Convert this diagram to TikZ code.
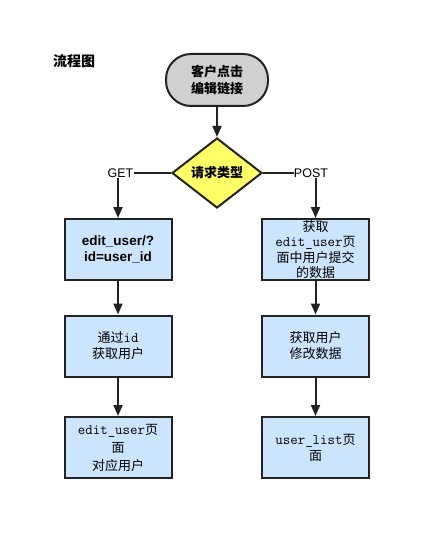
\documentclass[tikz,border=0pt]{standalone}
\usepackage{fontspec}
\setmainfont{Liberation Sans}
\newfontfamily\cjk{Noto Sans CJK SC}
\usetikzlibrary{shapes.geometric,arrows.meta}
\definecolor{boxblue}{HTML}{CCE5FF}
\definecolor{boxline}{HTML}{222222}
\definecolor{startgray}{HTML}{D0D0D0}
\definecolor{diayellow}{HTML}{FFFF66}
\newcommand{\monotxt}[1]{{\ttfamily\fontsize{14.5}{16}\selectfont #1}}
\begin{document}
\begin{tikzpicture}[x=1pt,y=-1pt]
            \tikzstyle{every node}+=[inner sep=0pt, align=center, font=\cjk\fontsize{13}{16}\selectfont]
            \tikzstyle{stepbox}=[draw=boxline, fill=boxblue, line width=2pt, minimum width=107pt, minimum height=61pt]
            \tikzstyle{startnode}=[draw=boxline, fill=startgray, line width=2pt, minimum width=102pt, minimum height=52pt, rounded corners=25pt]
            \tikzstyle{decision}=[draw=boxline, fill=diayellow, line width=2pt, diamond, minimum width=90pt, minimum height=70pt]
            \tikzstyle{flow}=[draw=boxline, line width=2pt, -{Triangle[length=11pt,width=9pt]}]
            \useasboundingbox (0,0) rectangle (431,540);
            \node [font=\cjk\fontsize{14}{16}\selectfont\bfseries] (title) at (74,61) {流程图};
            \node [startnode, font=\cjk\fontsize{13}{17}\selectfont\bfseries] (click) at (217,80) {客户点击\\ 编辑链接};
            \node [decision, font=\cjk\fontsize{13}{16}\selectfont\bfseries] (type) at (217,173) {请求类型};
            \node [font=\fontsize{12.5}{14}\selectfont] (get) at (120.5,173) {GET};
            \node [font=\fontsize{12.5}{14}\selectfont] (post) at (311,173) {POST};
            \node [stepbox, font=\fontsize{13.5}{16.5}\selectfont\bfseries] (lb1) at (118,249.5) {edit\_user/?\\ id=user\_id};
            \node [stepbox] (lb2) at (118,346) {通过\monotxt{id}\\ 获取用户};
            \node [stepbox, font=\cjk\fontsize{13}{18}\selectfont] (lb3) at (118,447.5) {\monotxt{edit\_user}页\\ 面\\ 对应用户};
            \node [stepbox, font=\cjk\fontsize{13}{15.5}\selectfont] (rb1) at (315.5,249.5) {获取\\ \monotxt{edit\_user}页\\ 面中用户提交\\ 的数据};
            \node [stepbox] (rb2) at (315.5,346) {获取用户\\ 修改数据};
            \node [stepbox] (rb3) at (315.5,447.5) {\monotxt{user\_list}页\\ 面};
            % connectors
            \draw [flow] (click) -- (type);
            \draw [draw=boxline, line width=2pt] (type.west) -- (get.east);
            \draw [draw=boxline, line width=2pt] (type.east) -- (post.west);
            \draw [flow] (get.south -| lb1) -- (lb1);
            \draw [flow] (post.south -| rb1) -- (rb1);
            \draw [flow] (lb1) -- (lb2);
            \draw [flow] (lb2) -- (lb3);
            \draw [flow] (rb1) -- (rb2);
            \draw [flow] (rb2) -- (rb3);
        \end{tikzpicture}
\end{document}
